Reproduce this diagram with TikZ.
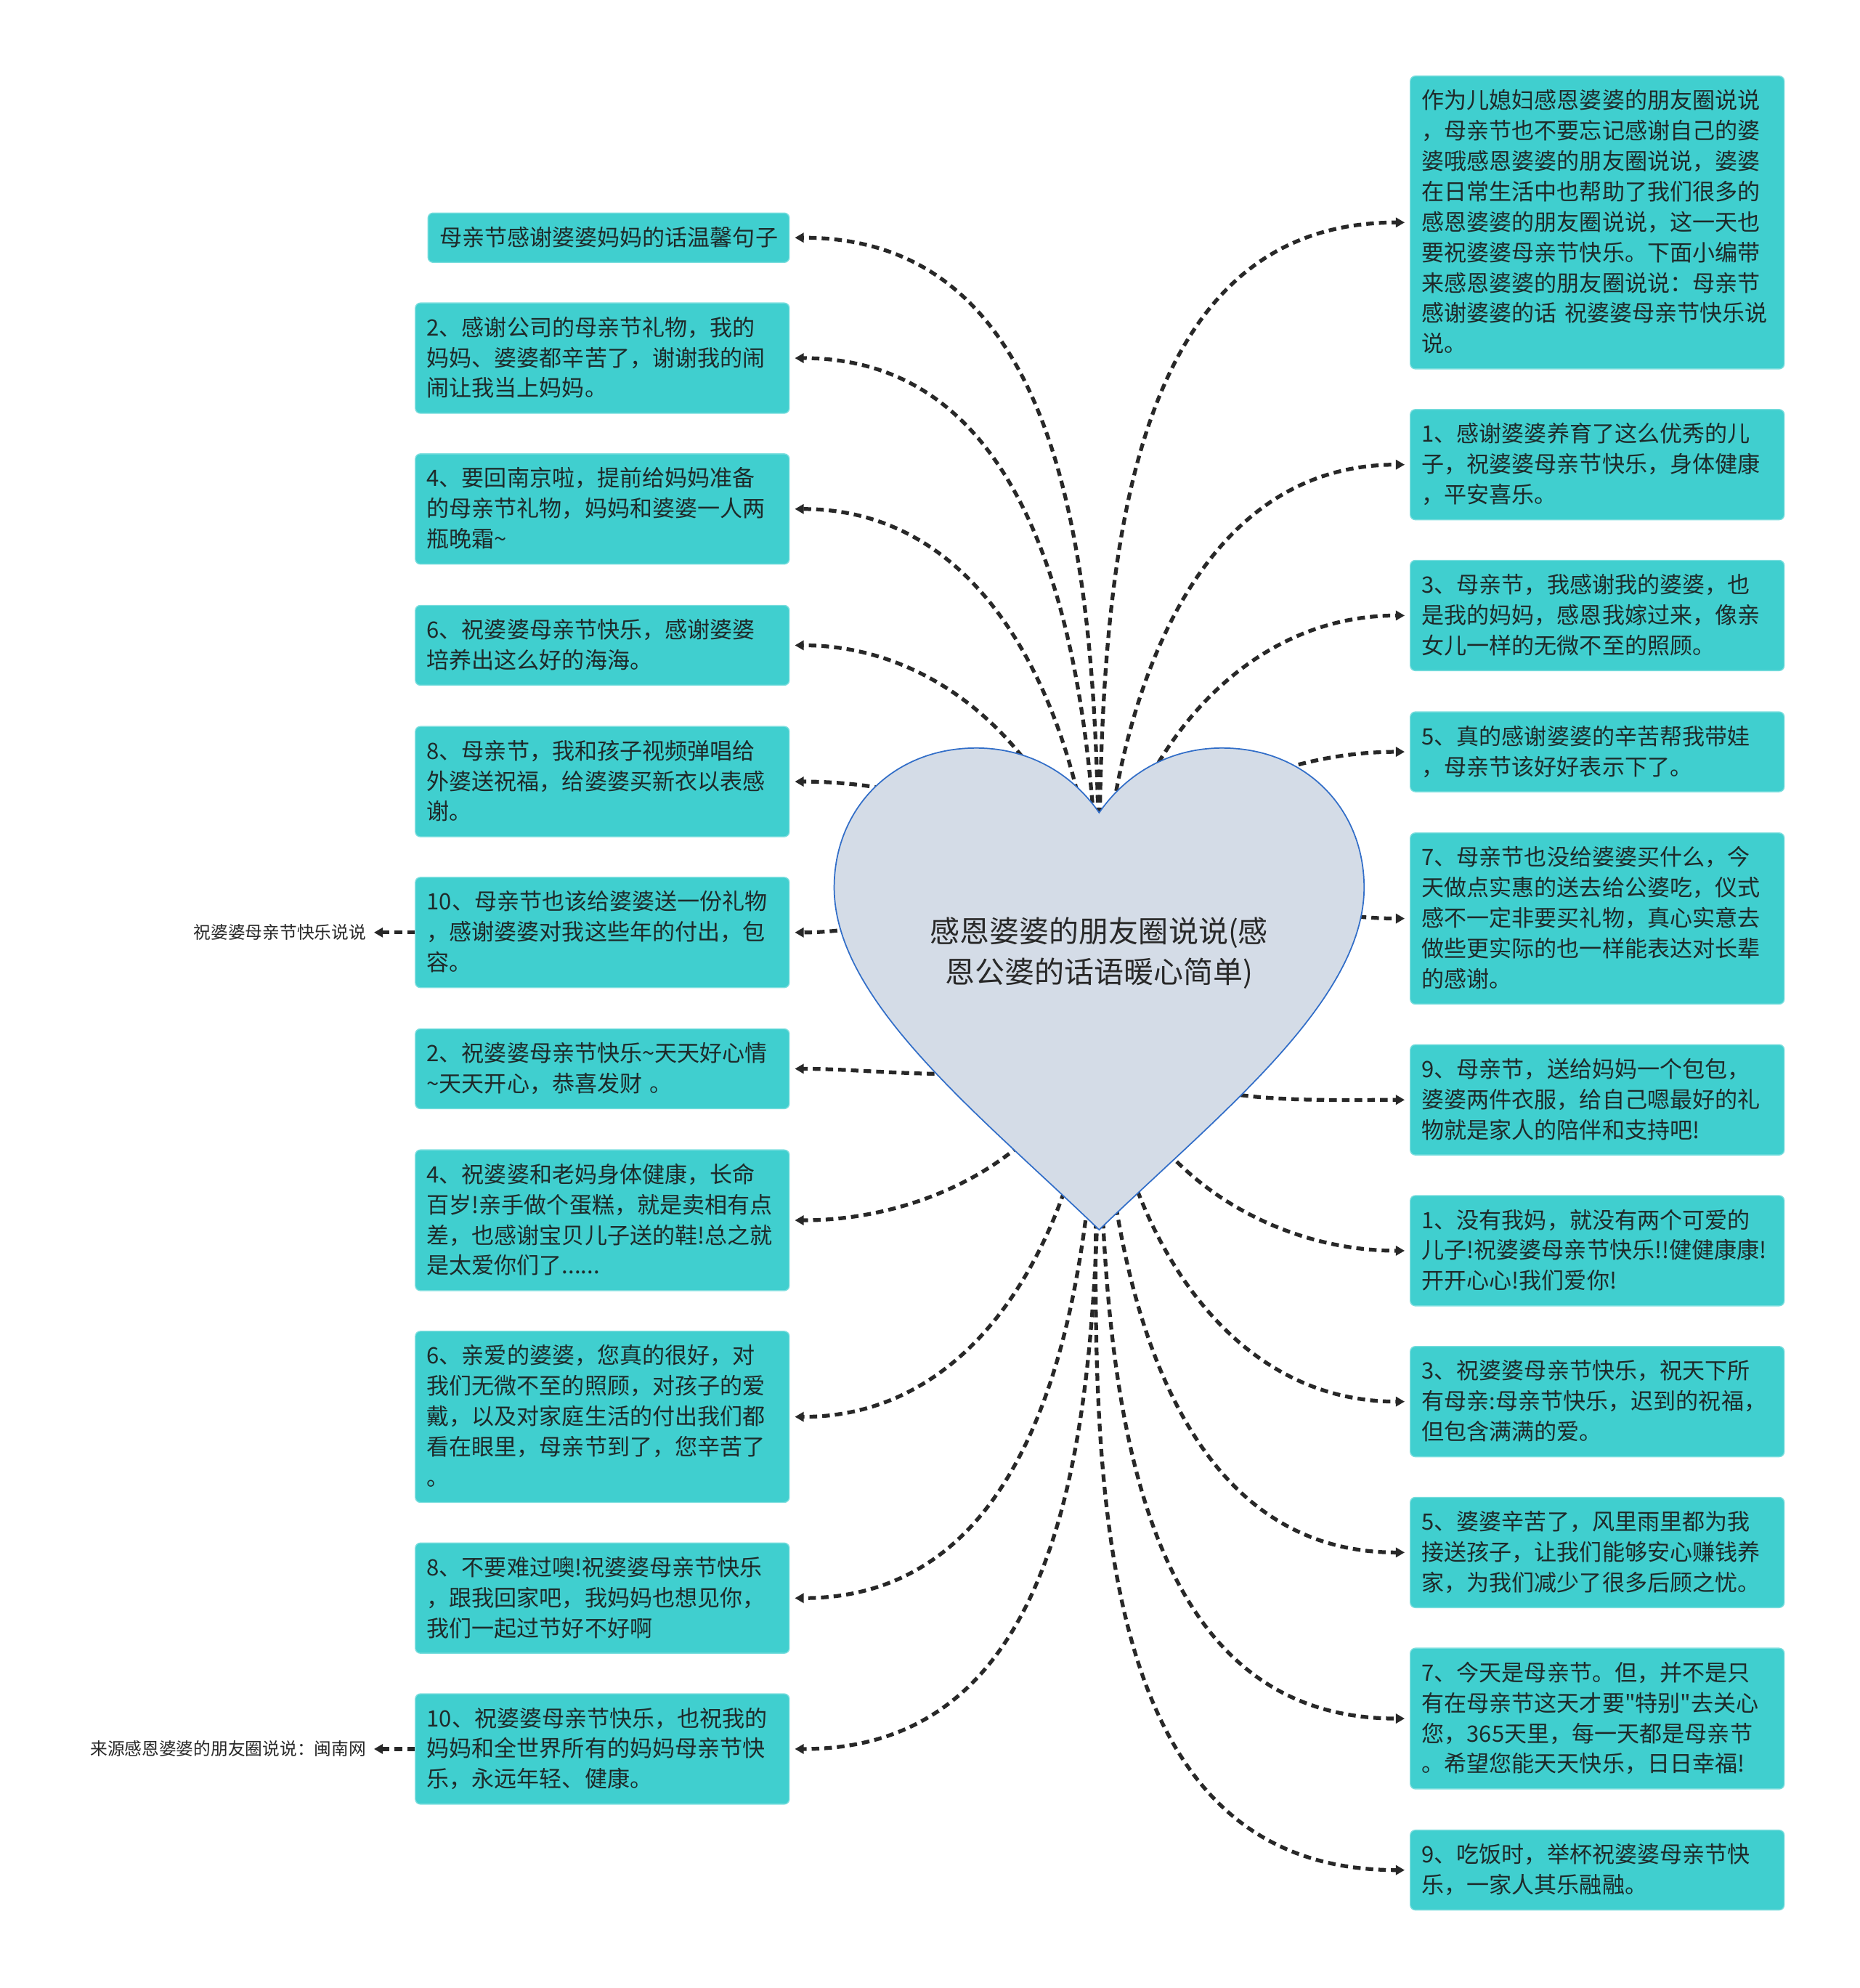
\documentclass[tikz,border=0pt]{standalone}
\usepackage{fontspec}
\setmainfont[Ligatures=TeXOff]{Noto Sans CJK SC}
\usetikzlibrary{arrows.meta}
\definecolor{ink}{RGB}{40,40,40}
\definecolor{boxT}{RGB}{30,42,42}
\definecolor{boxF}{RGB}{64,207,207}
\definecolor{heartF}{RGB}{212,220,231}
\definecolor{heartB}{RGB}{50,110,200}
\tikzset{
  box/.style={rectangle,rounded corners=4pt,fill=boxF,draw=boxF!70!white,line width=0.8pt,
    text=boxT,font=\fontsize{17.8}{24}\selectfont,inner xsep=9pt,inner ysep=6pt,
    execute at begin node={\rule{0pt}{19.8pt}},execute at end node=\strut},
  wbox/.style={box,text width=277pt,align=left},
  leaf/.style={font=\fontsize{13.6}{18}\selectfont,text=ink,inner sep=2pt},
  arr/.style={-{Triangle[length=7pt,width=7.5pt]},line width=3pt,draw=ink,
    dash pattern=on 6pt off 4pt,shorten >=4pt},
  root/.style={font=\fontsize{23.5}{32}\selectfont,text=ink,align=center},
}

\begin{document}
\begin{tikzpicture}[x=1pt,y=1pt]
\useasboundingbox (0,0) rectangle (1467,1568);
\coordinate (o) at (867,795);
% left column
\node[box,anchor=east] (b1) at (623,1380.5) {母亲节感谢婆婆妈妈的话温馨句子};
\node[wbox,anchor=east] (b2) at (623,1285.5) {2、感谢公司的母亲节礼物，我的\\妈妈、婆婆都辛苦了，谢谢我的闹\\闹让我当上妈妈。};
\node[wbox,anchor=east] (b3) at (623,1166.5) {4、要回南京啦，提前给妈妈准备\\的母亲节礼物，妈妈和婆婆一人两\\瓶晚霜\textasciitilde};
\node[wbox,anchor=east] (b4) at (623,1059) {6、祝婆婆母亲节快乐，感谢婆婆\\培养出这么好的海海。};
\node[wbox,anchor=east] (b5) at (623,951.5) {8、母亲节，我和孩子视频弹唱给\\外婆送祝福，给婆婆买新衣以表感\\谢。};
\node[wbox,anchor=east] (b6) at (623,832.5) {10、母亲节也该给婆婆送一份礼物\\，感谢婆婆对我这些年的付出，包\\容。};
\node[wbox,anchor=east] (b7) at (623,725) {2、祝婆婆母亲节快乐\textasciitilde 天天好心情\\\textasciitilde 天天开心，恭喜发财 。};
\node[wbox,anchor=east] (b8) at (623,605.5) {4、祝婆婆和老妈身体健康，长命\\百岁!亲手做个蛋糕，就是卖相有点\\差，也感谢宝贝儿子送的鞋!总之就\\是太爱你们了......};
\node[wbox,anchor=east] (b9) at (623,450.5) {6、亲爱的婆婆，您真的很好，对\\我们无微不至的照顾，对孩子的爱\\戴，以及对家庭生活的付出我们都\\看在眼里，母亲节到了，您辛苦了\\。};
\node[wbox,anchor=east] (b10) at (623,307.5) {8、不要难过噢!祝婆婆母亲节快乐\\，跟我回家吧，我妈妈也想见你，\\我们一起过节好不好啊};
\node[wbox,anchor=east] (b11) at (623,188.5) {10、祝婆婆母亲节快乐，也祝我的\\妈妈和全世界所有的妈妈母亲节快\\乐，永远年轻、健康。};
% right column
\node[wbox,anchor=west] (r1) at (1112,1392.5) {作为儿媳妇感恩婆婆的朋友圈说说\\，母亲节也不要忘记感谢自己的婆\\婆哦感恩婆婆的朋友圈说说，婆婆\\在日常生活中也帮助了我们很多的\\感恩婆婆的朋友圈说说，这一天也\\要祝婆婆母亲节快乐。下面小编带\\来感恩婆婆的朋友圈说说：母亲节\\感谢婆婆的话 祝婆婆母亲节快乐说\\说。};
\node[wbox,anchor=west] (r2) at (1112,1201.5) {1、感谢婆婆养育了这么优秀的儿\\子，祝婆婆母亲节快乐，身体健康\\，平安喜乐。};
\node[wbox,anchor=west] (r3) at (1112,1082.5) {3、母亲节，我感谢我的婆婆，也\\是我的妈妈，感恩我嫁过来，像亲\\女儿一样的无微不至的照顾。};
\node[wbox,anchor=west] (r4) at (1112,975) {5、真的感谢婆婆的辛苦帮我带娃\\，母亲节该好好表示下了。};
\node[wbox,anchor=west] (r5) at (1112,843.5) {7、母亲节也没给婆婆买什么，今\\天做点实惠的送去给公婆吃，仪式\\感不一定非要买礼物，真心实意去\\做些更实际的也一样能表达对长辈\\的感谢。};
\node[wbox,anchor=west] (r6) at (1112,700.5) {9、母亲节，送给妈妈一个包包，\\婆婆两件衣服，给自己嗯最好的礼\\物就是家人的陪伴和支持吧!};
\node[wbox,anchor=west] (r7) at (1112,581.5) {1、没有我妈，就没有两个可爱的\\儿子!祝婆婆母亲节快乐!!健健康康!\\开开心心!我们爱你!};
\node[wbox,anchor=west] (r8) at (1112,462.5) {3、祝婆婆母亲节快乐，祝天下所\\有母亲:母亲节快乐，迟到的祝福，\\但包含满满的爱。};
\node[wbox,anchor=west] (r9) at (1112,343.5) {5、婆婆辛苦了，风里雨里都为我\\接送孩子，让我们能够安心赚钱养\\家，为我们减少了很多后顾之忧。};
\node[wbox,anchor=west] (r10) at (1112,212.5) {7、今天是母亲节。但，并不是只\\有在母亲节这天才要"特别"去关心\\您，365天里，每一天都是母亲节\\。希望您能天天快乐，日日幸福!};
\node[wbox,anchor=west] (r11) at (1112,93) {9、吃饭时，举杯祝婆婆母亲节快\\乐，一家人其乐融融。};
% leaves
\node[leaf,anchor=east] (l1) at (291,832.5) {祝婆婆母亲节快乐说说};
\node[leaf,anchor=east] (l2) at (291,188.5) {来源感恩婆婆的朋友圈说说：闽南网};
\draw[arr] (b6.west) -- (l1.east);
\draw[arr] (b11.west) -- (l2.east);
% connectors from the heart
\foreach \n in {b1,b2,b3,b4,b5,b6} \draw[arr] (o) to[out=90,in=0] (\n.east);
\foreach \n in {b7,b8,b9,b10,b11} \draw[arr] (o) to[out=270,in=0] (\n.east);
\foreach \n in {r1,r2,r3,r4,r5} \draw[arr] (o) to[out=90,in=180] (\n.west);
\foreach \n in {r6,r7,r8,r9,r10,r11} \draw[arr] (o) to[out=270,in=180] (\n.west);
% heart
\draw[heartB,fill=heartF,line width=1pt] (867,927)
  .. controls (890,960) and (925,978) .. (964,978)
  .. controls (1030,978) and (1076,930) .. (1076,868)
  .. controls (1076,778) and (960,688) .. (867,598)
  .. controls (774,688) and (658,778) .. (658,868)
  .. controls (658,930) and (704,978) .. (770,978)
  .. controls (809,978) and (844,960) .. (867,927) -- cycle;
\node[root] (root) at (867,816) {感恩婆婆的朋友圈说说(感\\恩公婆的话语暖心简单)};
\end{tikzpicture}
\end{document}
